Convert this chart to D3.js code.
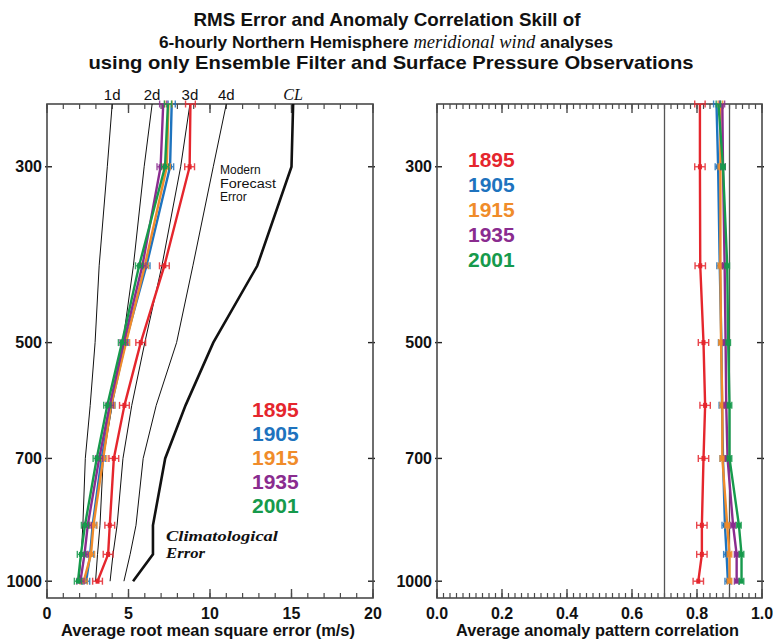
<!DOCTYPE html>
<html><head><meta charset="utf-8">
<script src="https://cdn.jsdelivr.net/npm/d3@7"></script>
<style>
html,body{margin:0;padding:0;background:#fff;}
svg{display:block;}
</style></head>
<body>
<svg id="chart" width="773" height="641"></svg>
<script>
// ---------- data ----------
const levels = [250, 300, 400, 500, 600, 700, 850, 925, 1000];
const years = ["1895", "1905", "1915", "1935", "2001"];
const colors = ["#e5262d", "#1e73be", "#f08c2a", "#8a2c8f", "#169a4c"];

// RMS error (m/s) per level
const rms1895 = [8.8, 8.75, 7.2, 5.75, 4.75, 4.1, 3.85, 3.75, 3.1];
const rms1905 = [7.65, 7.55, 6.1, 4.8, 3.95, 3.35, 2.8, 2.65, 2.4];
const rms1915 = [7.45, 7.35, 6.0, 4.85, 3.93, 3.45, 2.85, 2.7, 2.25];
const rms1935 = [7.13, 6.97, 5.85, 4.7, 3.85, 3.2, 2.5, 2.3, 2.05];
const rms2001 = [7.42, 7.24, 5.65, 4.6, 3.7, 3.05, 2.33, 2.08, 1.9];
const rmsErr = [0.3, 0.22, 0.22, 0.22, 0.22];

// Anomaly correlation per level
const acc1895 = [0.809, 0.809, 0.81, 0.82, 0.825, 0.82, 0.815, 0.815, 0.804];
const acc1905 = [0.86, 0.865, 0.87, 0.875, 0.877, 0.88, 0.886, 0.891, 0.895];
const acc1915 = [0.872, 0.872, 0.872, 0.874, 0.878, 0.878, 0.893, 0.9, 0.9];
const acc1935 = [0.878, 0.88, 0.885, 0.888, 0.89, 0.894, 0.911, 0.922, 0.922];
const acc2001 = [0.866, 0.88, 0.893, 0.896, 0.9, 0.9, 0.929, 0.937, 0.937];
const accErr = [0.016, 0.009, 0.007, 0.007, 0.007];

// Modern forecast error curves (m/s)
const fcLabels = ["1d", "2d", "3d", "4d", "CL"];
const fc1d = [4.0, 3.7, 3.2, 2.95, 2.65, 2.35, 2.2, 2.1, 1.96];
const fc2d = [6.45, 5.96, 5.3, 4.65, 4.0, 3.45, 3.25, 3.1, 2.98];
const fc3d = [8.77, 8.2, 7.05, 6.0, 5.2, 4.66, 4.3, 4.05, 3.87];
const fc4d = [11.0, 10.2, 8.95, 7.95, 6.7, 5.9, 5.46, 5.1, 4.72];
const fcCL = [15.1, 15.0, 12.9, 10.2, 8.5, 7.25, 6.5, 6.5, 5.28];

const yTicks = [300, 500, 700, 1000];
const rmsTicks = [0, 5, 10, 15, 20];
const accTicks = [0.0, 0.2, 0.4, 0.6, 0.8, 1.0];
const accRefLines = [0.7, 0.9];

const titleLines = ["RMS Error and Anomaly Correlation Skill of", "6-hourly Northern Hemisphere ", "meridional wind", " analyses", "using only Ensemble Filter and Surface Pressure Observations"];

// ---------- layout ----------
const svg = d3.select("#chart");
const yTop = 104, yBot = 598;
const y = d3.scaleLog().domain([250, 1050]).range([yTop, yBot]);
const xL = d3.scaleLinear().domain([0, 20]).range([47, 373]);
const xR = d3.scaleLinear().domain([0, 1]).range([437, 762]);
const frameColor = "#4a4a4a";
const sans = "'Liberation Sans', Arial, Helvetica, sans-serif";
const serif = "'Liberation Serif', 'Times New Roman', serif";

// title
const t = svg.append("g").attr("font-family", sans).attr("font-weight", "bold").attr("fill", "#111").attr("text-anchor", "middle");
t.append("text").attr("x", 387).attr("y", 26).attr("font-size", 19).text(titleLines[0])
  .attr("textLength", 387).attr("lengthAdjust", "spacingAndGlyphs");
const t2 = t.append("text").attr("x", 386).attr("y", 47.5).attr("font-size", 17.3);
t2.append("tspan").text(titleLines[1]);
t2.append("tspan").attr("font-family", serif).attr("font-style", "italic").attr("font-weight", "normal").attr("font-size", 18.5).text(titleLines[2]);
t2.append("tspan").text(titleLines[3]);
t.append("text").attr("x", 391).attr("y", 69).attr("font-size", 19).text(titleLines[4])
  .attr("textLength", 605).attr("lengthAdjust", "spacingAndGlyphs");

function panel(x, xTicks, minorStep, fmt, label, labelLen) {
  const g = svg.append("g");
  const [x0, x1] = x.range();
  const dom = x.domain();
  const minors = d3.range(dom[0], dom[1] + minorStep / 2, minorStep);
  g.selectAll(".mnb").data(minors).join("line")
    .attr("x1", d => x(d)).attr("x2", d => x(d)).attr("y1", yBot).attr("y2", yBot - 5)
    .attr("stroke", frameColor).attr("stroke-width", 1.2);
  g.selectAll(".mnt").data(minors).join("line")
    .attr("x1", d => x(d)).attr("x2", d => x(d)).attr("y1", yTop).attr("y2", yTop + 5)
    .attr("stroke", frameColor).attr("stroke-width", 1.2);
  g.selectAll(".mjb").data(xTicks).join("line")
    .attr("x1", d => x(d)).attr("x2", d => x(d)).attr("y1", yBot).attr("y2", yBot - 9)
    .attr("stroke", frameColor).attr("stroke-width", 1.4);
  g.selectAll(".mjt").data(xTicks).join("line")
    .attr("x1", d => x(d)).attr("x2", d => x(d)).attr("y1", yTop).attr("y2", yTop + 9)
    .attr("stroke", frameColor).attr("stroke-width", 1.4);
  g.selectAll(".yl").data(yTicks).join("line")
    .attr("x1", x0 - 2).attr("x2", x0 + 5).attr("y1", d => y(d)).attr("y2", d => y(d))
    .attr("stroke", "#222").attr("stroke-width", 1.4);
  g.selectAll(".yr").data(yTicks).join("line")
    .attr("x1", x1 - 5).attr("x2", x1 + 2).attr("y1", d => y(d)).attr("y2", d => y(d))
    .attr("stroke", "#222").attr("stroke-width", 1.4);
  g.append("rect").attr("x", x0).attr("y", yTop).attr("width", x1 - x0).attr("height", yBot - yTop)
    .attr("fill", "none").attr("stroke", frameColor).attr("stroke-width", 1.6);
  g.selectAll(".ylab").data(yTicks).join("text")
    .attr("x", x0 - 5).attr("y", d => y(d) + 5.5).attr("text-anchor", "end")
    .attr("font-family", sans).attr("font-weight", "bold").attr("font-size", 16).attr("fill", "#111")
    .text(d => d);
  g.selectAll(".xlab").data(xTicks).join("text")
    .attr("x", d => x(d)).attr("y", 619).attr("text-anchor", "middle")
    .attr("font-family", sans).attr("font-weight", "bold").attr("font-size", 16).attr("fill", "#111")
    .text(fmt);
  g.append("text").attr("x", (x0 + x1) / 2 - 2).attr("y", 636).attr("text-anchor", "middle")
    .attr("font-family", sans).attr("font-weight", "bold").attr("font-size", 16.5).attr("fill", "#111")
    .attr("textLength", labelLen).attr("lengthAdjust", "spacingAndGlyphs")
    .text(label);
  return g;
}

const gL = panel(xL, rmsTicks, 1, d => d, "Average root mean square error (m/s)", 294);
const gR = panel(xR, accTicks, 0.02, d => d.toFixed(1), "Average anomaly pattern correlation", 283);

// ---------- left panel: forecast curves ----------
const fcs = [fc1d, fc2d, fc3d, fc4d, fcCL];
const lineL = d3.line().x(d => xL(d[0])).y(d => y(d[1]));
fcs.forEach((arr, i) => {
  gL.append("path").datum(arr.map((v, j) => [v, levels[j]]))
    .attr("d", lineL).attr("fill", "none").attr("stroke", "#111")
    .attr("stroke-width", i === 4 ? 2.6 : 1);
  const lab = gL.append("text").attr("x", xL(arr[0])).attr("y", 100).attr("text-anchor", "middle")
    .attr("font-size", i === 4 ? 16 : 15).attr("fill", "#111").text(fcLabels[i]);
  if (i === 4) lab.attr("font-family", serif).attr("font-style", "italic");
  else lab.attr("font-family", sans);
});
const mfe = gL.append("g").attr("font-family", sans).attr("font-size", 12).attr("fill", "#111");
["Modern", "Forecast", "Error"].forEach((s, i) => {
  const tx = mfe.append("text").attr("x", 220).attr("y", 174 + i * 13.5).text(s);
  if (s === "Forecast") tx.attr("textLength", 56).attr("lengthAdjust", "spacingAndGlyphs");
});
const clim = gL.append("g").attr("font-family", serif).attr("font-style", "italic").attr("font-weight", "bold")
  .attr("font-size", 15).attr("fill", "#111");
clim.append("text").attr("x", 166).attr("y", 541).attr("textLength", 112).attr("lengthAdjust", "spacingAndGlyphs").text("Climatological");
clim.append("text").attr("x", 166).attr("y", 558).attr("textLength", 39).attr("lengthAdjust", "spacingAndGlyphs").text("Error");

// ---------- series ----------
const rmsAll = [rms1895, rms1905, rms1915, rms1935, rms2001];
const accAll = [acc1895, acc1905, acc1915, acc1935, acc2001];

function drawSeries(g, x, all, errs) {
  const line = d3.line().x(d => x(d[0])).y(d => y(d[1]));
  all.forEach((arr, i) => {
    const pts = arr.map((v, j) => [v, levels[j]]);
    g.append("path").datum(pts).attr("d", line).attr("fill", "none")
      .attr("stroke", colors[i]).attr("stroke-width", 2.4).attr("stroke-linejoin", "round");
    const eb = g.append("g").attr("stroke", colors[i]).attr("stroke-width", 1.4).attr("opacity", 0.85);
    pts.forEach(p => {
      const a = x(p[0] - errs[i]), b = x(p[0] + errs[i]), yy = y(p[1]);
      eb.append("line").attr("x1", a).attr("x2", b).attr("y1", yy).attr("y2", yy);
      eb.append("line").attr("x1", a).attr("x2", a).attr("y1", yy - 3.5).attr("y2", yy + 3.5);
      eb.append("line").attr("x1", b).attr("x2", b).attr("y1", yy - 3.5).attr("y2", yy + 3.5);
    });
    g.selectAll(null).data(pts.slice(1)).join("rect")
      .attr("x", d => x(d[0]) - 2).attr("y", d => y(d[1]) - 2.5).attr("width", 4).attr("height", 5)
      .attr("fill", colors[i]);
  });
}

gR.selectAll(".ref").data(accRefLines).join("line")
  .attr("x1", d => xR(d)).attr("x2", d => xR(d)).attr("y1", yTop).attr("y2", yBot)
  .attr("stroke", "#555").attr("stroke-width", 1.3);

drawSeries(gL, xL, rmsAll, rmsErr);
drawSeries(gR, xR, accAll, accErr);

// ---------- legends ----------
const legL = gL.append("g").attr("font-family", sans).attr("font-weight", "bold").attr("font-size", 21);
legL.selectAll("text").data(years).join("text")
  .attr("x", 252).attr("y", (d, i) => 417 + i * 24).attr("fill", (d, i) => colors[i]).text(d => d);
const legR = gR.append("g").attr("font-family", sans).attr("font-weight", "bold").attr("font-size", 21);
legR.selectAll("text").data(years).join("text")
  .attr("x", 468).attr("y", (d, i) => 167 + i * 25).attr("fill", (d, i) => colors[i]).text(d => d);
</script>
</body></html>
